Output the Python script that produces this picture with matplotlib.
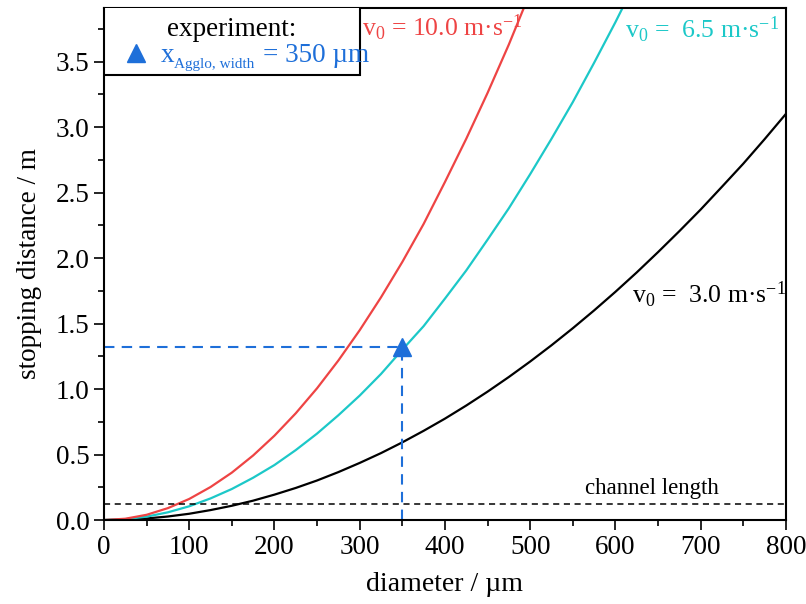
import numpy as np
import matplotlib
matplotlib.use("Agg")
import matplotlib.pyplot as plt
from matplotlib.patches import Rectangle
from matplotlib.ticker import MultipleLocator, FormatStrFormatter

plt.rcParams['font.family'] = ['Liberation Serif', 'DejaVu Serif']
plt.rcParams['mathtext.fontset'] = 'custom'
plt.rcParams['mathtext.rm'] = 'Liberation Serif'
plt.rcParams['mathtext.it'] = 'Liberation Serif'
plt.rcParams['mathtext.default'] = 'regular'

# curves (diameter in um, stopping distance in m)
d_black = [0, 25, 50, 75, 100, 125, 150, 175, 200, 225, 250, 275, 300, 325, 350, 375, 400,
           425, 450, 475, 500, 525, 550, 575, 600, 625, 650, 675, 700, 725, 750, 775, 800]
s_black = [0, 0.003, 0.012, 0.027, 0.048, 0.076, 0.109, 0.148, 0.194, 0.245, 0.302, 0.366,
           0.436, 0.511, 0.593, 0.681, 0.774, 0.874, 0.98, 1.092, 1.21, 1.334, 1.464, 1.60,
           1.742, 1.89, 2.045, 2.205, 2.37, 2.544, 2.72, 2.907, 3.10]

d_cyan = [0, 25, 50, 75, 100, 125, 150, 175, 200, 225, 250, 275, 300, 325, 350, 375, 400,
          425, 450, 475, 500, 525, 550, 575, 600, 610]
s_cyan = [0, 0.0066, 0.026, 0.059, 0.105, 0.165, 0.237, 0.323, 0.42, 0.534, 0.66, 0.80,
          0.95, 1.115, 1.30, 1.48, 1.69, 1.905, 2.14, 2.38, 2.64, 2.91, 3.19, 3.49, 3.80, 3.93]

d_red = [0, 25, 50, 75, 100, 125, 150, 175, 200, 225, 250, 275, 300, 325, 350, 375, 400,
         425, 450, 475, 492]
s_red = [0, 0.010, 0.040, 0.091, 0.161, 0.252, 0.362, 0.493, 0.644, 0.815, 1.006, 1.218,
         1.449, 1.70, 1.97, 2.26, 2.58, 2.91, 3.26, 3.63, 3.90]

exp_d = 350
exp_s = 1.32
channel_len = 0.12

RED = '#EE4444'
CYAN = '#1CC8C8'
BLUE = '#1E6FD9'
FS = 19.5
FS_V = 18.5

fig = plt.figure(figsize=(8.06, 6.04), dpi=100)
ax = fig.add_axes([0.129, 0.139, 0.846, 0.848])

ax.plot(d_black, s_black, color='black', lw=1.6)
ax.plot(d_cyan, s_cyan, color=CYAN, lw=1.6)
ax.plot(d_red, s_red, color=RED, lw=1.6)

ax.axhline(channel_len, color='black', lw=1.1, ls=(0, (4, 3)))
ax.text(721, channel_len + 0.04, 'channel length', fontsize=16.5, ha='right', va='bottom')

ax.plot([0, exp_d], [exp_s, exp_s], color=BLUE, lw=1.5, ls=(0, (5, 3.5)))
ax.plot([exp_d, exp_d], [0, exp_s], color=BLUE, lw=1.5, ls=(0, (5, 3.5)))
ax.plot([exp_d], [exp_s], marker='^', color=BLUE, ms=13, ls='none', zorder=5)

# box for the experiment
ax.add_patch(Rectangle((0, 3.40), 300, 0.6, facecolor='white', edgecolor='black', lw=1.5, zorder=6))
ax.text(150, 3.745, 'experiment:', fontsize=FS, ha='center', va='center', zorder=7)
ax.plot([37], [3.565], marker='^', color=BLUE, ms=13, ls='none', zorder=7)
ax.text(67, 3.55, 'x', fontsize=FS, color=BLUE, ha='left', va='center', zorder=7)
ax.text(82, 3.48, 'Agglo, width', fontsize=11, color=BLUE, ha='left', va='center', zorder=7)
ax.text(186, 3.55, '= 350 µm', fontsize=FS, color=BLUE, ha='left', va='center', zorder=7)

ax.text(303, 3.76, r'v$_0$ = 10.0 m·s$^{-1}$', fontsize=FS_V, color=RED, ha='left', va='center')
ax.text(611, 3.745, r'v$_0$ =  6.5 m·s$^{-1}$', fontsize=FS_V, color=CYAN, ha='left', va='center')
ax.text(619, 1.72, r'v$_0$ =  3.0 m·s$^{-1}$', fontsize=FS_V, color='black', ha='left', va='center')

ax.set_xlim(0, 800)
ax.set_ylim(0, 3.91)
ax.xaxis.set_major_locator(MultipleLocator(100))
ax.xaxis.set_minor_locator(MultipleLocator(50))
ax.yaxis.set_major_locator(MultipleLocator(0.5))
ax.yaxis.set_minor_locator(MultipleLocator(0.25))
ax.yaxis.set_major_formatter(FormatStrFormatter('%.1f'))
ax.tick_params(which='both', direction='out', top=False, right=False, labelsize=FS, width=1.2)
ax.tick_params(which='major', length=7)
ax.tick_params(which='minor', length=4)
for sp in ax.spines.values():
    sp.set_linewidth(1.5)

ax.set_xlabel('diameter / µm', fontsize=20, labelpad=9)
ax.set_ylabel('stopping distance / m', fontsize=19.5, labelpad=10)

fig.savefig('out.png', dpi=100)
